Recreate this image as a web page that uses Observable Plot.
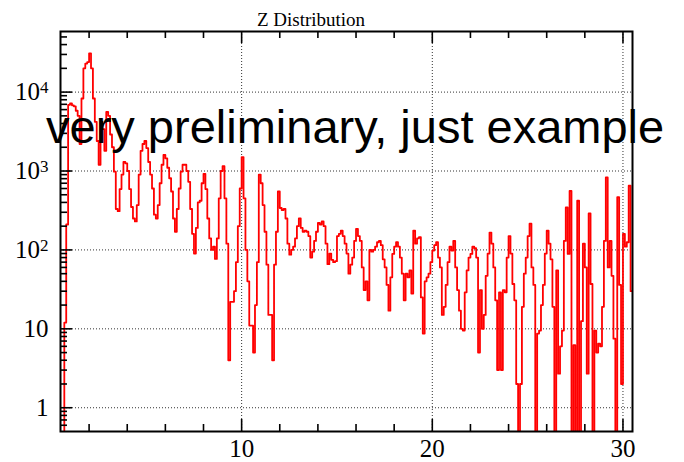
<!DOCTYPE html>
<html><head><meta charset="utf-8">
<script src="https://cdn.jsdelivr.net/npm/d3@7"></script>
<script src="https://cdn.jsdelivr.net/npm/@observablehq/plot@0.6"></script>
<style>body{margin:0;background:#fff} svg{display:block}</style>
</head><body><div id="chart"></div>
<script>
// ---- data ----
const binLow = 0.5;
const binWidth = 0.1;
const counts = [
  0, 0, 12, 210, 6900, 7200, 6800, 6600, 5800, 5000,
  2200, 8300, 20000, 23000, 24000, 31000, 20000, 8300, 4200, 2400,
  1200, 4200, 3400, 1800, 5600, 5000, 2900, 2000, 980, 330,
  310, 590, 900, 1300, 1250, 1000, 590, 350, 250, 230,
  370, 900, 1800, 2200, 2400, 1950, 1300, 900, 600, 280,
  250, 370, 700, 1200, 1600, 1450, 1100, 810, 550, 250,
  170, 330, 600, 980, 1200, 1200, 1000, 730, 330, 160,
  90, 190, 400, 420, 700, 920, 590, 250, 140, 100,
  110, 77, 140, 450, 1000, 1150, 450, 120, 4, 22,
  22, 30, 70, 200, 600, 1500, 450, 100, 40, 11,
  11, 5, 20, 70, 900, 700, 370, 170, 65, 15,
  15, 4, 65, 170, 550, 340, 320, 330, 250, 120,
  87, 100, 110, 140, 200, 250, 190, 170, 175, 170,
  150, 80, 95, 130, 170, 220, 210, 230, 200, 120,
  66, 90, 75, 70, 72, 150, 160, 175, 150, 120,
  90, 50, 65, 80, 130, 185, 150, 130, 60, 31,
  40, 23, 100, 95, 100, 110, 125, 130, 115, 76,
  60, 36, 17, 45, 89, 110, 125, 110, 80, 50,
  23, 50, 45, 55, 28, 175, 120, 140, 145, 25,
  8.7, 40, 45, 50, 70, 98, 115, 125, 80, 60,
  15, 19, 36, 70, 110, 98, 130, 60, 31, 17,
  10, 9.5, 29, 55, 80, 89, 110, 105, 80, 5,
  31, 10, 15, 47, 90, 166, 120, 60, 23, 3,
  29, 3, 31, 29, 80, 150, 90, 37, 23, 2,
  0, 2, 19, 50, 80, 150, 215, 60, 36, 0,
  8.7, 9.5, 20, 36, 90, 175, 120, 76, 19, 0,
  55, 2.7, 6, 9.5, 130, 345, 89, 560, 0, 6.2,
  0, 420, 0, 12.5, 120, 60, 2.7, 290, 37, 0,
  9.5, 5, 6.5, 6, 19, 130, 830, 60, 130, 47,
  7.5, 0, 465, 36, 2, 160, 110, 125, 650, 30
];
const xMajorTicks = [10, 20, 30];
const xMinorTicks = [2, 4, 6, 8, 12, 14, 16, 18, 22, 24, 26, 28];
const yMajorTicks = [1, 10, 100, 1000, 10000];
const yTickLabels = ["1", "10", "10^2", "10^3", "10^4"];
const yMinorTicks = [0.6, 0.7, 0.8, 0.9, 2, 3, 4, 5, 6, 7, 8, 9,
  20, 30, 40, 50, 60, 70, 80, 90, 200, 300, 400, 500, 600, 700, 800, 900,
  2000, 3000, 4000, 5000, 6000, 7000, 8000, 9000, 20000, 30000, 40000, 50000];
const titleText = "Z Distribution";
const watermarkText = "very preliminary, just example";

// ---- build ----
const bins = counts.map((c, i) => ({x: binLow + i * binWidth, y: c}));
bins.push({x: binLow + counts.length * binWidth, y: counts[counts.length - 1]});

const W = 684, H = 462, mL = 60, mR = 52, mT = 31, mB = 31;
const fw = W - mL - mR, fh = H - mT - mB;
const serif = "'Liberation Serif','Times New Roman',serif";
const sans = "'Liberation Sans',Arial,sans-serif";

const plot = Plot.plot({
  width: W, height: H,
  marginLeft: mL, marginRight: mR, marginTop: mT, marginBottom: mB,
  style: {fontFamily: serif, fontSize: "25px", background: "#fff", color: "#000", overflow: "visible"},
  x: {domain: [0.5, 30.5]},
  y: {type: "log", domain: [0.5, 58600]},
  marks: [
    Plot.gridX(xMajorTicks, {stroke: "#333", strokeOpacity: 1, strokeDasharray: "1,2"}),
    Plot.gridY(yMajorTicks, {stroke: "#333", strokeOpacity: 1, strokeDasharray: "1,2"}),
    Plot.line(bins, {x: "x", y: d => Math.max(d.y, 0.05), curve: "step-after",
      stroke: "#ff0000", strokeWidth: 1.8, clip: true}),
    // bottom ticks
    Plot.tickX(xMajorTicks, {x: d => d, insetTop: fh - 12, stroke: "#000", strokeWidth: 1.6}),
    Plot.tickX(xMinorTicks, {x: d => d, insetTop: fh - 7, stroke: "#000", strokeWidth: 1.6}),
    // top ticks
    Plot.tickX(xMajorTicks, {x: d => d, insetBottom: fh - 12, stroke: "#000", strokeWidth: 1.6}),
    Plot.tickX(xMinorTicks, {x: d => d, insetBottom: fh - 7, stroke: "#000", strokeWidth: 1.6}),
    // left ticks
    Plot.tickY(yMajorTicks, {y: d => d, insetRight: fw - 12, stroke: "#000", strokeWidth: 1.6}),
    Plot.tickY(yMinorTicks, {y: d => d, insetRight: fw - 7, stroke: "#000", strokeWidth: 1.6}),
    Plot.axisX(xMajorTicks, {tickSize: 0, tickPadding: 8, label: null,
      tickFormat: d => String(d), fontSize: 25}),
    Plot.axisY(yMajorTicks, {tickSize: 0, tickPadding: 12, label: null,
      tickFormat: d => yTickLabels[yMajorTicks.indexOf(d)], fontSize: 25}),
    Plot.frame({stroke: "#000", strokeWidth: 2})
  ]
});

// superscripts for 10^n labels
d3.select(plot).selectAll('g[aria-label="y-axis tick label"] text').each(function() {
  const s = this.textContent;
  if (s.includes("^")) {
    const [base, exp] = s.split("^");
    const t = d3.select(this);
    t.text(base);
    t.append("tspan").attr("dy", "-0.42em").attr("font-size", "17px").text(exp);
  }
});

const svg = d3.select(plot);
svg.append("text")
  .attr("x", 311).attr("y", 26)
  .attr("text-anchor", "middle")
  .attr("font-family", serif).attr("font-size", 19)
  .attr("fill", "#000")
  .text(titleText);
svg.append("text")
  .attr("x", 46).attr("y", 143)
  .attr("text-anchor", "start")
  .attr("font-family", sans).attr("font-size", 47)
  .attr("fill", "#000")
  .text(watermarkText);

document.getElementById("chart").appendChild(plot);
</script>
</body></html>
